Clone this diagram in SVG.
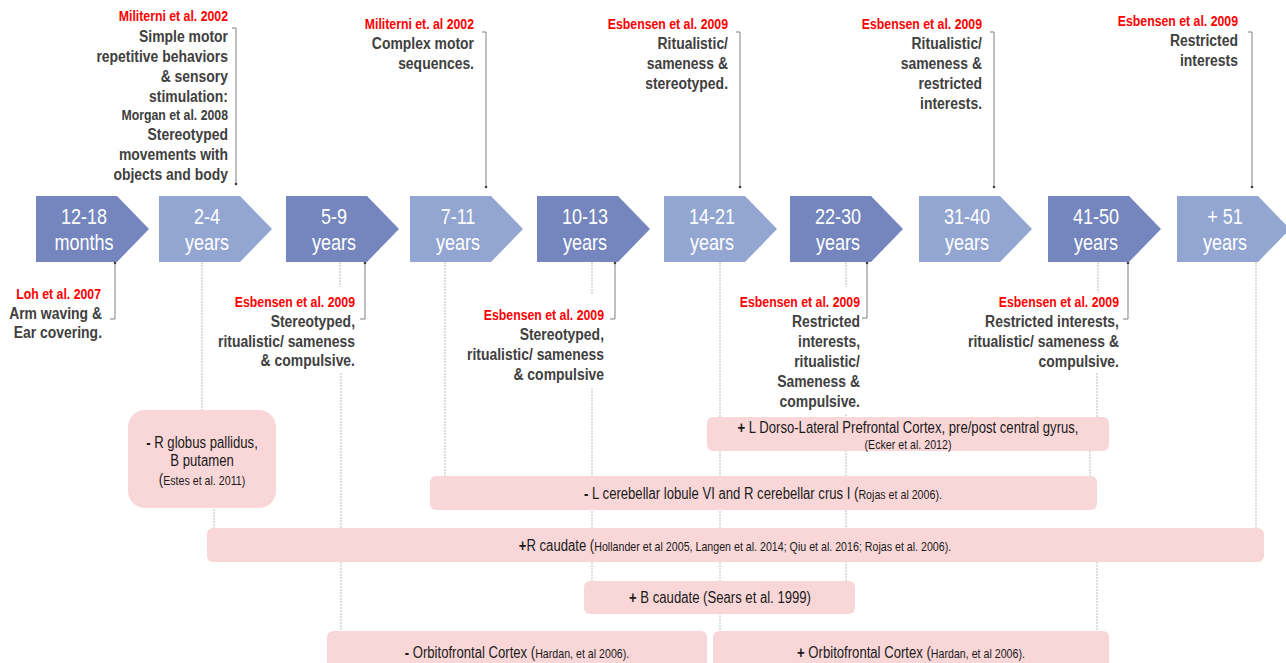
<svg xmlns="http://www.w3.org/2000/svg" width="1286" height="663" viewBox="0 0 1286 663">
<defs>
<style>
text{font-family:"Liberation Sans",Arial,sans-serif}
.cv{fill:#fff;font-size:22px;text-anchor:middle}
.dk{fill:#7486BD}
.lt{fill:#93A6D1}
.red{fill:#f00;font-size:15px;font-weight:bold}
.blk{fill:#404040;font-size:17px;font-weight:bold}
.ref{fill:#404040;font-size:15px;font-weight:bold}
.end{text-anchor:end}
.call{fill:none;stroke:#808080;stroke-width:1}
.faint{fill:none;stroke:#bdbdbd;stroke-width:1;stroke-dasharray:2 1}
.bx{fill:#F9D7D8}
.bt{fill:#1a1a1a;font-size:16px;text-anchor:middle}
.sm{font-size:13px}
.b{font-weight:bold}
</style>
<marker id="dot" viewBox="0 0 4 4" refX="2" refY="2" markerWidth="4" markerHeight="4" markerUnits="userSpaceOnUse"><circle cx="2" cy="2" r="1.3" fill="#404040"/></marker>
</defs>

<g id="faint-connectors">
<path class="faint" d="M202,262V410M214,509V528M340,262V287M341,373V631M445,262V476M592,262V295M592,388V581M720,262V631M846,262V287M846,414V581M1098,262V293M1097,373V417M1090,451V476M1097,562V631M1256,262V528"/>
</g>

<g id="callouts">
<path class="call" marker-end="url(#dot)" d="M232,28H236V184"/>
<path class="call" marker-end="url(#dot)" d="M482,32H486V187"/>
<path class="call" marker-end="url(#dot)" d="M736,32H740V187"/>
<path class="call" marker-end="url(#dot)" d="M990,32H994V187"/>
<path class="call" marker-end="url(#dot)" d="M1248,32H1252V187"/>
<path class="call" marker-start="url(#dot)" d="M115,263V319H110"/>
<path class="call" marker-start="url(#dot)" d="M365,263V319H360"/>
<path class="call" marker-start="url(#dot)" d="M615,263V319H610"/>
<path class="call" marker-start="url(#dot)" d="M867,263V318H862"/>
<path class="call" marker-start="url(#dot)" d="M1128,263V319H1123"/>
</g>

<g id="t-12-18"><path class="dk" d="M36,196H117L149,229L117,262H36Z"/><text class="cv" transform="translate(84,0) scale(0.82 1)"><tspan x="0" y="224">12-18</tspan><tspan x="0" y="250">months</tspan></text></g>
<g id="t-2-4"><path class="lt" d="M159,196H240L272,229L240,262H159Z"/><text class="cv" transform="translate(207,0) scale(0.82 1)"><tspan x="0" y="224">2-4</tspan><tspan x="0" y="250">years</tspan></text></g>
<g id="t-5-9"><path class="dk" d="M286,196H367L399,229L367,262H286Z"/><text class="cv" transform="translate(334,0) scale(0.82 1)"><tspan x="0" y="224">5-9</tspan><tspan x="0" y="250">years</tspan></text></g>
<g id="t-7-11"><path class="lt" d="M410,196H491L523,229L491,262H410Z"/><text class="cv" transform="translate(458,0) scale(0.82 1)"><tspan x="0" y="224">7-11</tspan><tspan x="0" y="250">years</tspan></text></g>
<g id="t-10-13"><path class="dk" d="M537,196H618L650,229L618,262H537Z"/><text class="cv" transform="translate(585,0) scale(0.82 1)"><tspan x="0" y="224">10-13</tspan><tspan x="0" y="250">years</tspan></text></g>
<g id="t-14-21"><path class="lt" d="M664,196H745L777,229L745,262H664Z"/><text class="cv" transform="translate(712,0) scale(0.82 1)"><tspan x="0" y="224">14-21</tspan><tspan x="0" y="250">years</tspan></text></g>
<g id="t-22-30"><path class="dk" d="M790,196H871L903,229L871,262H790Z"/><text class="cv" transform="translate(838,0) scale(0.82 1)"><tspan x="0" y="224">22-30</tspan><tspan x="0" y="250">years</tspan></text></g>
<g id="t-31-40"><path class="lt" d="M919,196H1000L1032,229L1000,262H919Z"/><text class="cv" transform="translate(967,0) scale(0.82 1)"><tspan x="0" y="224">31-40</tspan><tspan x="0" y="250">years</tspan></text></g>
<g id="t-41-50"><path class="dk" d="M1048,196H1129L1161,229L1129,262H1048Z"/><text class="cv" transform="translate(1096,0) scale(0.82 1)"><tspan x="0" y="224">41-50</tspan><tspan x="0" y="250">years</tspan></text></g>
<g id="t-51"><path class="lt" d="M1177,196H1258L1290,229L1258,262H1177Z"/><text class="cv" transform="translate(1225,0) scale(0.82 1)"><tspan x="0" y="224">+ 51</tspan><tspan x="0" y="250">years</tspan></text></g>

<g id="note-2-4">
<text class="red end" transform="translate(228,0) scale(0.82 1)" x="0" y="21.5">Militerni et al. 2002</text>
<text class="blk end" transform="translate(228,0) scale(0.82 1)"><tspan x="0" y="41.7">Simple motor</tspan><tspan x="0" y="61.7">repetitive behaviors</tspan><tspan x="0" y="81.7">&amp; sensory</tspan><tspan x="0" y="101.7">stimulation:</tspan><tspan class="ref" x="0" y="120">Morgan et al. 2008</tspan><tspan x="0" y="140">Stereotyped</tspan><tspan x="0" y="160">movements with</tspan><tspan x="0" y="180">objects and body</tspan></text>
</g>
<g id="note-7-11">
<text class="red end" transform="translate(474,0) scale(0.82 1)" x="0" y="29">Militerni et. al 2002</text>
<text class="blk end" transform="translate(474,0) scale(0.82 1)"><tspan x="0" y="49">Complex motor</tspan><tspan x="0" y="69">sequences.</tspan></text>
</g>
<g id="note-14-21">
<text class="red end" transform="translate(728,0) scale(0.82 1)" x="0" y="29">Esbensen et al. 2009</text>
<text class="blk end" transform="translate(728,0) scale(0.82 1)"><tspan x="0" y="49">Ritualistic/</tspan><tspan x="0" y="69">sameness &amp;</tspan><tspan x="0" y="89">stereotyped.</tspan></text>
</g>
<g id="note-31-40">
<text class="red end" transform="translate(982,0) scale(0.82 1)" x="0" y="29">Esbensen et al. 2009</text>
<text class="blk end" transform="translate(982,0) scale(0.82 1)"><tspan x="0" y="49">Ritualistic/</tspan><tspan x="0" y="69">sameness &amp;</tspan><tspan x="0" y="89">restricted</tspan><tspan x="0" y="109">interests.</tspan></text>
</g>
<g id="note-51">
<text class="red end" transform="translate(1238,0) scale(0.82 1)" x="0" y="26">Esbensen et al. 2009</text>
<text class="blk end" transform="translate(1238,0) scale(0.82 1)"><tspan x="0" y="46">Restricted</tspan><tspan x="0" y="66">interests</tspan></text>
</g>

<g id="note-12-18">
<text class="red end" transform="translate(101,0) scale(0.82 1)" x="0" y="299.5">Loh et al. 2007</text>
<text class="blk end" transform="translate(102,0) scale(0.82 1)"><tspan x="0" y="319">Arm waving &amp;</tspan><tspan x="0" y="338.5">Ear covering.</tspan></text>
</g>
<g id="note-5-9">
<text class="red end" transform="translate(355,0) scale(0.82 1)" x="0" y="307.5">Esbensen et al. 2009</text>
<text class="blk end" transform="translate(355,0) scale(0.82 1)"><tspan x="0" y="327">Stereotyped,</tspan><tspan x="0" y="347">ritualistic/ sameness</tspan><tspan x="0" y="366.5">&amp; compulsive.</tspan></text>
</g>
<g id="note-10-13">
<text class="red end" transform="translate(604,0) scale(0.82 1)" x="0" y="320">Esbensen et al. 2009</text>
<text class="blk end" transform="translate(604,0) scale(0.82 1)"><tspan x="0" y="340">Stereotyped,</tspan><tspan x="0" y="360">ritualistic/ sameness</tspan><tspan x="0" y="380">&amp; compulsive</tspan></text>
</g>
<g id="note-22-30">
<text class="red end" transform="translate(860,0) scale(0.82 1)" x="0" y="307.5">Esbensen et al. 2009</text>
<text class="blk end" transform="translate(860,0) scale(0.82 1)"><tspan x="0" y="327">Restricted</tspan><tspan x="0" y="347">interests,</tspan><tspan x="0" y="367">ritualistic/</tspan><tspan x="0" y="387">Sameness &amp;</tspan><tspan x="0" y="407">compulsive.</tspan></text>
</g>
<g id="note-41-50">
<text class="red end" transform="translate(1119,0) scale(0.82 1)" x="0" y="307.5">Esbensen et al. 2009</text>
<text class="blk end" transform="translate(1119,0) scale(0.82 1)"><tspan x="0" y="327">Restricted interests,</tspan><tspan x="0" y="347">ritualistic/ sameness &amp;</tspan><tspan x="0" y="367">compulsive.</tspan></text>
</g>

<g id="box-globus">
<rect class="bx" x="128" y="410" width="148" height="98" rx="17"/>
<text class="bt" transform="translate(202,0) scale(0.82 1)"><tspan x="0" y="448"><tspan class="b">-</tspan> R globus pallidus,</tspan><tspan x="0" y="466">B putamen</tspan><tspan x="0" y="485">(<tspan class="sm">Estes et al. 2011)</tspan></tspan></text>
</g>
<g id="box-dlpfc">
<rect class="bx" x="707" y="417" width="402" height="34" rx="6"/>
<text class="bt" transform="translate(908,0) scale(0.82 1)"><tspan x="0" y="433"><tspan class="b">+</tspan> L Dorso-Lateral Prefrontal Cortex, pre/post central gyrus,</tspan><tspan class="sm" x="0" y="449">(Ecker et al. 2012)</tspan></text>
</g>
<g id="box-cerebellar">
<rect class="bx" x="430" y="476" width="667" height="34" rx="6"/>
<text class="bt" transform="translate(763,0) scale(0.82 1)" x="0" y="499"><tspan class="b">-</tspan> L cerebellar lobule VI and R cerebellar crus I (<tspan class="sm">Rojas et al 2006).</tspan></text>
</g>
<g id="box-rcaudate">
<rect class="bx" x="207" y="528" width="1057" height="34" rx="6"/>
<text class="bt" transform="translate(735,0) scale(0.82 1)" x="0" y="551"><tspan class="b">+</tspan>R caudate (<tspan class="sm">Hollander et al 2005, Langen et al. 2014; Qiu et al. 2016; Rojas et al. 2006).</tspan></text>
</g>
<g id="box-bcaudate">
<rect class="bx" x="584" y="581" width="271" height="33" rx="6"/>
<text class="bt" transform="translate(720,0) scale(0.82 1)" x="0" y="603"><tspan class="b">+</tspan> B caudate (Sears et al. 1999)</text>
</g>
<g id="box-ofc-minus">
<rect class="bx" x="327" y="631" width="380" height="45" rx="6"/>
<text class="bt" transform="translate(517,0) scale(0.82 1)" x="0" y="658"><tspan class="b">-</tspan> Orbitofrontal Cortex (<tspan class="sm">Hardan, et al 2006).</tspan></text>
</g>
<g id="box-ofc-plus">
<rect class="bx" x="713" y="631" width="396" height="45" rx="6"/>
<text class="bt" transform="translate(911,0) scale(0.82 1)" x="0" y="658"><tspan class="b">+</tspan> Orbitofrontal Cortex (<tspan class="sm">Hardan, et al 2006).</tspan></text>
</g>
</svg>
